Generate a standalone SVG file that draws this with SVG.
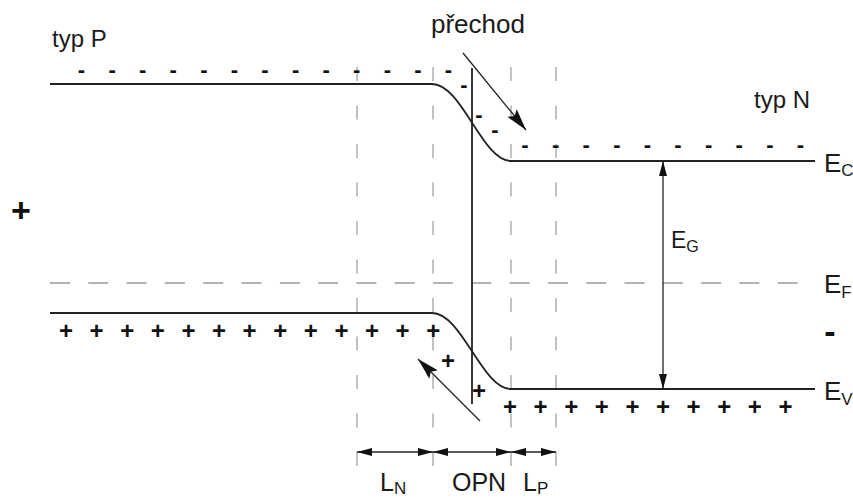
<svg xmlns="http://www.w3.org/2000/svg" width="853" height="498" viewBox="0 0 853 498">
  <defs>
    <style>
      .band { fill: none; stroke: #222; stroke-width: 1.8; }
      .guide { fill: none; stroke: #b3b3b3; stroke-width: 1.6; stroke-dasharray: 14 24.5; }
      .fermi { fill: none; stroke: #b3b3b3; stroke-width: 1.8; stroke-dasharray: 20 18.3; }
      .thin { fill: none; stroke: #222; stroke-width: 1.3; }
      .lbl { font-family: "Liberation Sans", Arial, sans-serif; fill: #1a1a1a; }
      .chg { font-family: "Liberation Sans", Arial, sans-serif; font-weight: bold; fill: #111; text-anchor: middle; }
      .neg { font-size: 22px; }
      .pos { font-size: 24px; }
    </style>
    <marker id="dimArrow" viewBox="0 0 15 8" refX="15" refY="4" markerWidth="15" markerHeight="8" markerUnits="userSpaceOnUse" orient="auto-start-reverse">
      <path d="M0,0 L15,4 L0,8 Z" fill="#111"/>
    </marker>
    <marker id="gapArrow" viewBox="0 0 15 8" refX="15" refY="4" markerWidth="15" markerHeight="8" markerUnits="userSpaceOnUse" orient="auto-start-reverse">
      <path d="M0,0 L15,4 L0,8 Z" fill="#111"/>
    </marker>
    <marker id="flowArrow" viewBox="0 0 22 12" refX="22" refY="6" markerWidth="22" markerHeight="12" markerUnits="userSpaceOnUse" orient="auto">
      <path d="M0,0 L22,6 L0,12 L4,6 Z" fill="#111"/>
    </marker>
  </defs>

  <rect width="853" height="498" fill="#fff"/>

  <!-- guide lines: region boundaries and Fermi level -->
  <g id="guides">
    <line class="guide" x1="357" y1="67" x2="357" y2="466"/>
    <line class="guide" x1="433" y1="67" x2="433" y2="466"/>
    <line class="guide" x1="511" y1="67" x2="511" y2="466"/>
    <line class="guide" x1="556" y1="67" x2="556" y2="466"/>
    <line class="fermi" x1="50" y1="283" x2="815" y2="283"/>
  </g>

  <!-- band edges -->
  <g id="conduction-band">
    <path class="band" d="M50,84 H432 C462,84 482,161 511,161 H815"/>
  </g>
  <g id="valence-band">
    <path class="band" d="M50,313 H432 C462,313 482,389 511,389 H815"/>
  </g>

  <!-- metallurgical junction -->
  <g id="junction">
    <line x1="472" y1="68" x2="472" y2="404" stroke="#222" stroke-width="1.8"/>
  </g>

  <!-- connectors: carrier flow, band gap and width dimensions -->
  <g id="connectors">
    <line class="thin" x1="463" y1="53" x2="526" y2="130" marker-end="url(#flowArrow)"/>
    <line class="thin" x1="480" y1="421" x2="418" y2="359" marker-end="url(#flowArrow)"/>
    <line class="thin" x1="663" y1="161" x2="663" y2="389" stroke-width="1.6" marker-start="url(#gapArrow)" marker-end="url(#gapArrow)"/>
    <line class="thin" x1="357" y1="452" x2="433" y2="452" stroke-width="1.6" marker-start="url(#dimArrow)" marker-end="url(#dimArrow)"/>
    <line class="thin" x1="433" y1="452" x2="511" y2="452" stroke-width="1.6" marker-start="url(#dimArrow)" marker-end="url(#dimArrow)"/>
    <line class="thin" x1="511" y1="452" x2="556" y2="452" stroke-width="1.6" marker-start="url(#dimArrow)" marker-end="url(#dimArrow)"/>
  </g>

  <!-- electrons (minus) -->
  <g id="electrons" class="chg neg">
    <text x="81.5" y="76.7">-</text>
    <text x="112.1" y="76.7">-</text>
    <text x="142.7" y="76.7">-</text>
    <text x="173.2" y="76.7">-</text>
    <text x="203.8" y="76.7">-</text>
    <text x="234.4" y="76.7">-</text>
    <text x="265" y="76.7">-</text>
    <text x="295.6" y="76.7">-</text>
    <text x="326.1" y="76.7">-</text>
    <text x="356.7" y="76.7">-</text>
    <text x="387.3" y="76.7">-</text>
    <text x="417.9" y="76.7">-</text>
    <text x="448.5" y="76.7">-</text>
    <text x="464" y="91.7">-</text>
    <text x="479" y="122.4">-</text>
    <text x="495" y="137.4">-</text>
    <text x="525" y="152.4">-</text>
    <text x="555.6" y="152.4">-</text>
    <text x="586.2" y="152.4">-</text>
    <text x="616.8" y="152.4">-</text>
    <text x="647.4" y="152.4">-</text>
    <text x="678" y="152.4">-</text>
    <text x="708.6" y="152.4">-</text>
    <text x="739.2" y="152.4">-</text>
    <text x="769.8" y="152.4">-</text>
    <text x="800.4" y="152.4">-</text>
  </g>

  <!-- holes (plus) -->
  <g id="holes" class="chg pos">
    <text x="66" y="338.5">+</text>
    <text x="96.6" y="338.5">+</text>
    <text x="127.2" y="338.5">+</text>
    <text x="157.8" y="338.5">+</text>
    <text x="188.4" y="338.5">+</text>
    <text x="219" y="338.5">+</text>
    <text x="249.6" y="338.5">+</text>
    <text x="280.2" y="338.5">+</text>
    <text x="310.8" y="338.5">+</text>
    <text x="341.4" y="338.5">+</text>
    <text x="372" y="338.5">+</text>
    <text x="402.6" y="338.5">+</text>
    <text x="433.2" y="338.5">+</text>
    <text x="448" y="368.5">+</text>
    <text x="479" y="398.5">+</text>
    <text x="510" y="415.2">+</text>
    <text x="540.6" y="415.2">+</text>
    <text x="571.2" y="415.2">+</text>
    <text x="601.8" y="415.2">+</text>
    <text x="632.4" y="415.2">+</text>
    <text x="663" y="415.2">+</text>
    <text x="693.6" y="415.2">+</text>
    <text x="724.2" y="415.2">+</text>
    <text x="754.8" y="415.2">+</text>
    <text x="785.4" y="415.2">+</text>
  </g>

  <!-- terminal polarity -->
  <g id="polarity" class="chg">
    <text x="21" y="222" font-size="34">+</text>
    <text x="830" y="343" font-size="34">-</text>
  </g>

  <!-- region and level labels -->
  <g id="labels" class="lbl">
    <text x="52" y="47" font-size="24">typ P</text>
    <text x="754" y="108" font-size="24">typ N</text>
    <text x="431" y="33" font-size="26">přechod</text>
    <text x="824" y="172" font-size="26">E<tspan font-size="17" dy="4">C</tspan></text>
    <text x="824" y="293" font-size="26">E<tspan font-size="17" dy="5">F</tspan></text>
    <text x="824" y="400" font-size="26">E<tspan font-size="17" dy="5">V</tspan></text>
    <text x="671" y="248" font-size="23">E<tspan font-size="16" dy="4">G</tspan></text>
    <text x="380" y="491" font-size="25">L<tspan font-size="17" dy="3">N</tspan></text>
    <text x="452" y="491" font-size="25">OPN</text>
    <text x="523" y="491" font-size="25">L<tspan font-size="17" dy="3">P</tspan></text>
  </g>
</svg>
